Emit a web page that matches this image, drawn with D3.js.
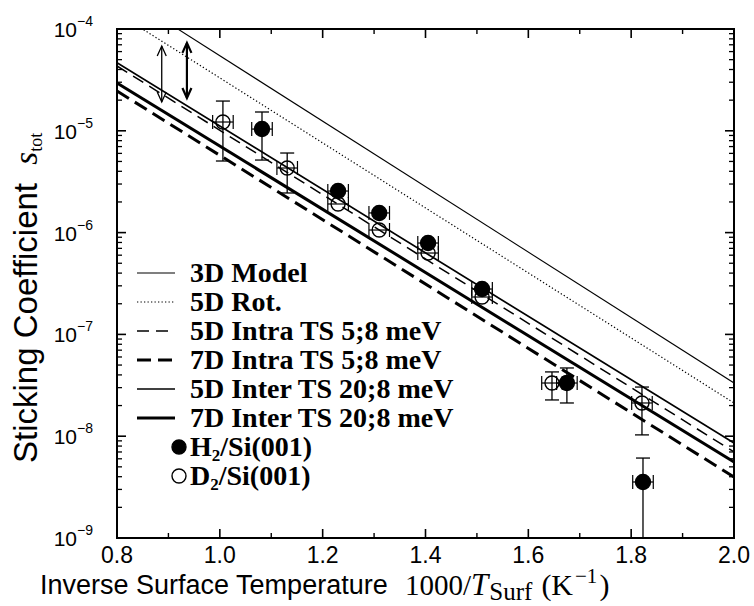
<!DOCTYPE html>
<html>
<head>
<meta charset="utf-8">
<script src="https://cdn.jsdelivr.net/npm/d3@7"></script>
<style>
  body { margin: 0; background: #fff; }
  svg { display: block; }
</style>
</head>
<body>
<div id="chart"></div>
<script>
// model curves, given by their values at the two ends of the x range
var lineNames = ["3D Model", "5D Rot.", "5D Intra TS 5;8 meV", "7D Intra TS 5;8 meV",
                 "5D Inter TS 20;8 meV", "7D Inter TS 20;8 meV"];
var lineX = [0.8, 2.0];
var lineStart = [2.40e-4, 1.44e-4, 4.33e-5, 2.46e-5, 4.67e-5, 2.95e-5];
var lineEnd = [3.33e-8, 2.12e-8, 7.0e-9, 3.97e-9, 8.57e-9, 5.58e-9];

// H2/Si(001) measurements
var h2X = [1.082, 1.230, 1.310, 1.405, 1.510, 1.675, 1.823];
var h2Y = [1.04e-5, 2.56e-6, 1.56e-6, 7.9e-7, 2.79e-7, 3.33e-8, 3.55e-9];
var h2Lo = [5.16e-6, null, null, null, null, 2.12e-8, 1e-10];
var h2Hi = [1.53e-5, null, null, null, null, 4.68e-8, 6.1e-9];

// D2/Si(001) measurements
var d2X = [1.006, 1.131, 1.230, 1.310, 1.405, 1.510, 1.646, 1.821];
var d2Y = [1.22e-5, 4.31e-6, 1.91e-6, 1.06e-6, 6.3e-7, 2.33e-7, 3.33e-8, 2.12e-8];
var d2Lo = [5.05e-6, 2.45e-6, null, null, null, null, 2.27e-8, 1.03e-8];
var d2Hi = [1.96e-5, 6.05e-6, null, null, null, null, 4.28e-8, 3.04e-8];

var xErr = 0.02;

// the two double arrows at the upper left
var arrowX = [0.887, 0.936];
var arrowTop = [6.8e-5, 7.3e-5];
var arrowBottom = [1.92e-5, 2.1e-5];

var xTicks = [0.8, 1.0, 1.2, 1.4, 1.6, 1.8, 2.0];
var yTicks = [1e-9, 1e-8, 1e-7, 1e-6, 1e-5, 1e-4];

var width = 754, height = 606;
var margin = {left: 117, right: 20, top: 29, bottom: 68};

var svg = d3.select("#chart").append("svg")
    .attr("width", width)
    .attr("height", height);

var x = d3.scaleLinear().domain([0.8, 2.0]).range([margin.left, width - margin.right]);
var y = d3.scaleLog().domain([1e-9, 1e-4]).range([height - margin.bottom, margin.top]);

svg.append("clipPath").attr("id", "plot")
    .append("rect")
    .attr("x", x(0.8)).attr("y", y(1e-4))
    .attr("width", x(2.0) - x(0.8)).attr("height", y(1e-9) - y(1e-4));

var plot = svg.append("g").attr("clip-path", "url(#plot)");

// model lines
var lineStyles = [
    {w: 1.1, dash: null},
    {w: 1.2, dash: "1.3,2.2"},
    {w: 1.5, dash: "12,7"},
    {w: 3.0, dash: "14,7"},
    {w: 1.7, dash: null},
    {w: 3.0, dash: null}
];
var line = d3.line().x(function(d) { return x(d[0]); }).y(function(d) { return y(d[1]); });

lineNames.forEach(function(name, i) {
    plot.append("path")
        .datum([[lineX[0], lineStart[i]], [lineX[1], lineEnd[i]]])
        .attr("d", line)
        .attr("fill", "none")
        .attr("stroke", "#000")
        .attr("stroke-width", lineStyles[i].w)
        .attr("stroke-dasharray", lineStyles[i].dash);
});

// arrows
function arrowHead(g, cx, cy, dir, w) {
    g.append("path")
        .attr("d", "M" + (cx - 4.5) + "," + (cy + dir * 10) + "L" + cx + "," + cy + "L" + (cx + 4.5) + "," + (cy + dir * 10))
        .attr("fill", "none").attr("stroke", "#000").attr("stroke-width", w);
}
arrowX.forEach(function(ax, i) {
    var w = i === 0 ? 1.3 : 2.2;
    var cx = x(ax), y1 = y(arrowTop[i]), y2 = y(arrowBottom[i]);
    plot.append("line")
        .attr("x1", cx).attr("x2", cx).attr("y1", y1).attr("y2", y2)
        .attr("stroke", "#000").attr("stroke-width", w);
    arrowHead(plot, cx, y1, 1, w);
    arrowHead(plot, cx, y2, -1, w);
});

// data with error bars
function errorPoints(xs, ys, lo, hi, filled) {
    var g = plot.append("g");
    xs.forEach(function(xv, i) {
        var cx = x(xv), cy = y(ys[i]);
        var xl = x(xv - xErr), xr = x(xv + xErr);
        g.append("line").attr("x1", xl).attr("x2", xr).attr("y1", cy).attr("y2", cy)
            .attr("stroke", "#000").attr("stroke-width", 1.2);
        [xl, xr].forEach(function(ex) {
            g.append("line").attr("x1", ex).attr("x2", ex).attr("y1", cy - 7).attr("y2", cy + 7)
                .attr("stroke", "#000").attr("stroke-width", 1.2);
        });
        if (lo[i] !== null) {
            var yl = y(lo[i]), yh = y(hi[i]);
            g.append("line").attr("x1", cx).attr("x2", cx).attr("y1", yh).attr("y2", yl)
                .attr("stroke", "#000").attr("stroke-width", 1.3);
            [yl, yh].forEach(function(ey) {
                g.append("line").attr("x1", cx - 7).attr("x2", cx + 7).attr("y1", ey).attr("y2", ey)
                    .attr("stroke", "#000").attr("stroke-width", 1.3);
            });
        }
        g.append("circle")
            .attr("cx", cx).attr("cy", cy).attr("r", filled ? 7.5 : 7)
            .attr("fill", filled ? "#000" : "none")
            .attr("stroke", "#000")
            .attr("stroke-width", 1.4);
    });
}
errorPoints(d2X, d2Y, d2Lo, d2Hi, false);
errorPoints(h2X, h2Y, h2Lo, h2Hi, true);

// frame and ticks
var minorX = d3.range(0.9, 2.0, 0.2);
var minorY = [];
yTicks.slice(0, -1).forEach(function(t) {
    d3.range(2, 10).forEach(function(k) { minorY.push(t * k); });
});

var frame = svg.append("g").attr("stroke", "#000");
var bottomY = y(1e-9), topY = y(1e-4), leftX = x(0.8), rightX = x(2.0);

xTicks.forEach(function(t) {
    frame.append("line").attr("x1", x(t)).attr("x2", x(t)).attr("y1", bottomY).attr("y2", bottomY - 9).attr("stroke-width", 1.6);
    frame.append("line").attr("x1", x(t)).attr("x2", x(t)).attr("y1", topY).attr("y2", topY + 9).attr("stroke-width", 1.6);
});
minorX.forEach(function(t) {
    frame.append("line").attr("x1", x(t)).attr("x2", x(t)).attr("y1", bottomY).attr("y2", bottomY - 5).attr("stroke-width", 1.4);
    frame.append("line").attr("x1", x(t)).attr("x2", x(t)).attr("y1", topY).attr("y2", topY + 5).attr("stroke-width", 1.4);
});
yTicks.forEach(function(t) {
    frame.append("line").attr("x1", leftX).attr("x2", leftX + 9).attr("y1", y(t)).attr("y2", y(t)).attr("stroke-width", 1.6);
    frame.append("line").attr("x1", rightX).attr("x2", rightX - 9).attr("y1", y(t)).attr("y2", y(t)).attr("stroke-width", 1.6);
});
minorY.forEach(function(t) {
    frame.append("line").attr("x1", leftX).attr("x2", leftX + 5).attr("y1", y(t)).attr("y2", y(t)).attr("stroke-width", 1.3);
    frame.append("line").attr("x1", rightX).attr("x2", rightX - 5).attr("y1", y(t)).attr("y2", y(t)).attr("stroke-width", 1.3);
});
frame.append("rect")
    .attr("x", leftX).attr("y", topY)
    .attr("width", rightX - leftX).attr("height", bottomY - topY)
    .attr("fill", "none").attr("stroke-width", 2);

// tick labels
var sans = "'Liberation Sans', Arial, Helvetica, sans-serif";
var serif = "'Liberation Serif', 'Times New Roman', Times, serif";

svg.append("g").selectAll("text").data(xTicks).enter().append("text")
    .attr("x", function(d) { return x(d); })
    .attr("y", bottomY + 25)
    .attr("text-anchor", "middle")
    .attr("font-family", sans).attr("font-size", 23)
    .text(function(d) { return d3.format(".1f")(d); });

var yl = svg.append("g").selectAll("text").data(yTicks).enter().append("text")
    .attr("x", leftX - 24)
    .attr("y", function(d) { return y(d) + 8; })
    .attr("text-anchor", "end")
    .attr("font-family", sans).attr("font-size", 21);
yl.append("tspan").text("10");
yl.append("tspan").attr("dy", -11).attr("font-size", 14)
    .text(function(d) { return "\u2212" + Math.round(-Math.log10(d)); });

// axis titles
svg.append("text")
    .attr("x", 40).attr("y", 594)
    .attr("font-family", sans).attr("font-size", 27)
    .text("Inverse Surface Temperature");
var unit = svg.append("text")
    .attr("x", 405).attr("y", 595)
    .attr("font-family", serif).attr("font-size", 29);
unit.append("tspan").text("1000/");
unit.append("tspan").attr("font-size", 31).attr("font-style", "italic").text("T");
unit.append("tspan").attr("font-size", 25).attr("dy", 5).attr("dx", 1).text("Surf");
unit.append("tspan").attr("font-size", 30).attr("dy", -5).attr("dx", 9).text("(K");
unit.append("tspan").attr("font-size", 21).attr("dy", -12).attr("dx", 2).text("\u22121");
unit.append("tspan").attr("font-size", 30).attr("dy", 12).attr("dx", 2).text(")");

var yt = svg.append("text")
    .attr("transform", "translate(37,463) rotate(-90)")
    .attr("font-family", sans).attr("font-size", 33);
yt.append("tspan").text("Sticking Coefficient\u00a0\u00a0");
yt.append("tspan").attr("font-family", serif).attr("font-style", "italic").attr("font-size", 33).text("s");
yt.append("tspan").attr("font-family", serif).attr("font-size", 18).attr("dy", 5).text("tot");

// legend
var legendY0 = 273, legendStep = 29;
var legend = svg.append("g").attr("font-family", serif).attr("font-weight", "bold").attr("font-size", 28);
lineNames.forEach(function(name, i) {
    var ly = legendY0 + i * legendStep;
    legend.append("line")
        .attr("x1", 137).attr("x2", 175).attr("y1", ly).attr("y2", ly)
        .attr("stroke", "#000")
        .attr("stroke-width", lineStyles[i].w)
        .attr("stroke-dasharray", lineStyles[i].dash);
    legend.append("text").attr("x", 190).attr("y", ly + 9).text(name);
});
var markerNames = [["H", "2", "/Si(001)", true], ["D", "2", "/Si(001)", false]];
markerNames.forEach(function(m, j) {
    var ly = legendY0 + (6 + j) * legendStep;
    legend.append("circle").attr("cx", 179).attr("cy", ly).attr("r", 7)
        .attr("fill", m[3] ? "#000" : "none").attr("stroke", "#000").attr("stroke-width", 1.4);
    var t = legend.append("text").attr("x", 190).attr("y", ly + 9);
    t.append("tspan").text(m[0]);
    t.append("tspan").attr("font-size", 17).attr("dy", 5).text(m[1]);
    t.append("tspan").attr("dy", -5).text(m[2]);
});
</script>
</body>
</html>
